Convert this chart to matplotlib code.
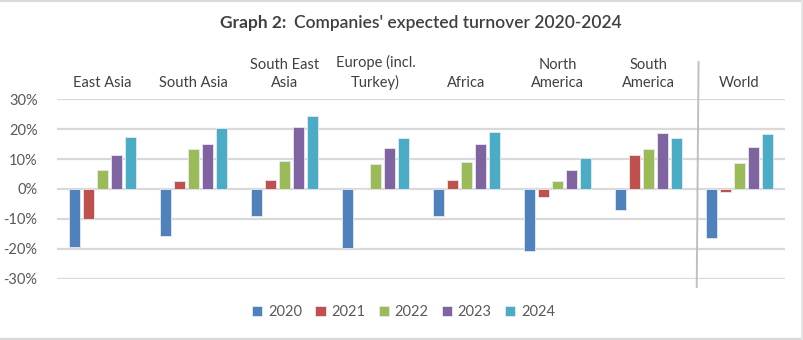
import numpy as np
import matplotlib
matplotlib.use('Agg')
import matplotlib.pyplot as plt
from matplotlib.lines import Line2D

plt.rcParams['font.family'] = ['Lato', 'DejaVu Sans']

regions = ['East Asia', 'South Asia', 'South East\nAsia', 'Europe (incl.\nTurkey)',
           'Africa', 'North\nAmerica', 'South\nAmerica', 'World']
years = ['2020', '2021', '2022', '2023', '2024']
v2020 = [-19.5, -15.8, -9.0, -19.7, -9.0, -20.7, -7.2, -16.3]
v2021 = [-10.1, 2.6, 2.9, 0.0, 3.0, -2.7, 11.2, -0.9]
v2022 = [6.4, 13.2, 9.4, 8.4, 9.1, 2.7, 13.2, 8.7]
v2023 = [11.2, 15.0, 20.7, 13.7, 15.0, 6.2, 18.7, 14.1]
v2024 = [17.5, 20.4, 24.4, 16.9, 18.9, 10.3, 16.9, 18.4]
series = [v2020, v2021, v2022, v2023, v2024]
colors = ['#4F81BD', '#C0504D', '#9BBB59', '#8064A2', '#4BACC6']

fig = plt.figure(figsize=(8.04, 3.40), dpi=100)
ax = fig.add_axes([57 / 804, 1 - 278.5 / 340, 728 / 804, 179.2 / 340])

x = np.arange(len(regions))
pitch = 0.154
width = 0.122
for i, vals in enumerate(series):
    ax.bar(x + (i - 2) * pitch, np.array(vals) / 100, width, color=colors[i],
           label=years[i], zorder=3, edgecolor='#e8e8f0', linewidth=0.6)

ax.set_xlim(-0.5, len(regions) - 0.5)
ax.set_ylim(-0.3, 0.3)
ax.set_yticks(np.arange(-0.3, 0.31, 0.1))
ax.set_yticklabels(['-30%', '-20%', '-10%', '0%', '10%', '20%', '30%'])
ax.tick_params(axis='y', length=0, labelsize=10.5, labelcolor='#595959', pad=14)
ax.grid(axis='y', color='#d9d9d9', linewidth=1.6, zorder=0)
for s in ax.spines.values():
    s.set_visible(False)

ax.xaxis.tick_top()
ax.set_xticks(x)
ax.set_xticklabels(regions, fontsize=10.5, color='#404040', linespacing=1.35)
ax.tick_params(axis='x', length=0, pad=7)

# separator before World
ax.add_line(Line2D([6.55, 6.53], [1.208, -0.047], transform=ax.get_xaxis_transform(),
                   color='#bfbfbf', linewidth=1.4, clip_on=False))

fig.text(0.274, 0.933, 'Graph 2:', fontsize=12.5, fontweight='bold', color='#404040',
         va='center', ha='left')
fig.text(0.366, 0.933, "Companies' expected turnover 2020-2024", fontsize=12.5,
         fontweight='semibold', color='#404040', va='center', ha='left')

fig.legend(loc='center', bbox_to_anchor=(0.502, 0.082), ncol=5, frameon=False,
           fontsize=10.5, handlelength=0.7, handleheight=0.7, handletextpad=0.4,
           columnspacing=0.9, labelcolor='#595959')

# thin gray frame edges
fig.add_artist(Line2D([0, 1], [0.997, 0.997], color='#d9d9d9', linewidth=1.5))
fig.add_artist(Line2D([0, 1], [0.004, 0.004], color='#d9d9d9', linewidth=2.5))
fig.add_artist(Line2D([0.998, 0.998], [0, 1], color='#e6e6e6', linewidth=1.5))

fig.savefig('out.png', dpi=100)
